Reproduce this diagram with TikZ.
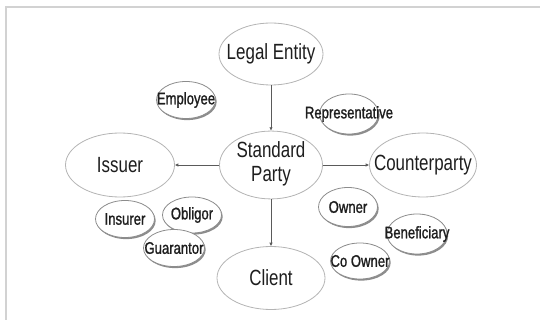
\documentclass[tikz,border=0pt]{standalone}
\usepackage{fontspec}
\newfontfamily\lbl[FakeStretch=0.77]{Liberation Sans}
\newfontfamily\slbl[FakeStretch=0.78,FakeBold=1.2]{Liberation Sans}
\usetikzlibrary{shapes.geometric,arrows.meta,shadows}
\definecolor{bigline}{HTML}{B4B4B4}
\definecolor{smallline}{HTML}{8C8C8C}
\definecolor{conn}{HTML}{5A5A5A}
\definecolor{frame}{HTML}{D2D2D2}
\definecolor{txt}{HTML}{1E1E1E}
\tikzset{
  big/.style={ellipse, draw=bigline, line width=0.8pt, fill=white, inner sep=0pt,
    text=txt, font=\lbl\fontsize{22}{24}\selectfont},
  small/.style={ellipse, draw=smallline, line width=0.8pt, fill=white, inner sep=0pt,
    minimum width=59pt, minimum height=37pt, text=txt,
    font=\slbl\fontsize{16.8}{18}\selectfont,
    drop shadow={shadow xshift=1.2pt, shadow yshift=-1.6pt, opacity=0.6, fill=black!75}},
  conn/.style={draw=conn, line width=0.7pt, -{Latex[length=3.4pt,width=3.4pt]}}
}
\newcommand{\zb}[1]{\makebox[0pt]{#1}}
\begin{document}
\begin{tikzpicture}[x=1pt,y=-1pt]
\useasboundingbox (0,0) rectangle (540,320);
\draw[frame, line width=1.8pt] (6,330) -- (6,7) -- (545,7);
% large nodes
\node[big, minimum width=104pt, minimum height=62pt] (legal) at (271,54) {\zb{Legal Entity}};
\node[big, minimum width=103pt, minimum height=64pt] (std) at (271,165)
  {\zb{\begin{tabular}{@{}c@{}}Standard\\Party\end{tabular}}};
\node[big, minimum width=109pt, minimum height=64pt] (issuer) at (120,165) {\zb{Issuer}};
\node[big, minimum width=107pt, minimum height=64pt] (counter) at (423,165) {\zb{Counterparty}};
\node[big, minimum width=108pt, minimum height=63pt] (client) at (271,278) {\zb{Client}};
% small nodes
\node[small] (employee) at (186,100) {\zb{Employee}};
\node[small, minimum height=40pt] (rep) at (349,114) {\zb{Representative}};
\node[small] (insurer) at (125,219) {\zb{Insurer}};
\node[small, minimum height=36pt] (obligor) at (192,215) {\zb{Obligor}};
\node[small, minimum width=61pt] (guarantor) at (174,248) {\zb{Guarantor}};
\node[small, minimum height=39pt] (owner) at (348,207) {\zb{Owner}};
\node[small, minimum width=60pt, minimum height=40pt] (benef) at (417,234) {\zb{Beneficiary}};
\node[small, minimum height=36pt] (coowner) at (360,261) {\zb{Co Owner}};
% connectors
\draw[conn] (legal) -- (std);
\draw[conn] (std) -- (issuer);
\draw[conn] (std) -- (counter);
\draw[conn] (std) -- (client);
\end{tikzpicture}
\end{document}
